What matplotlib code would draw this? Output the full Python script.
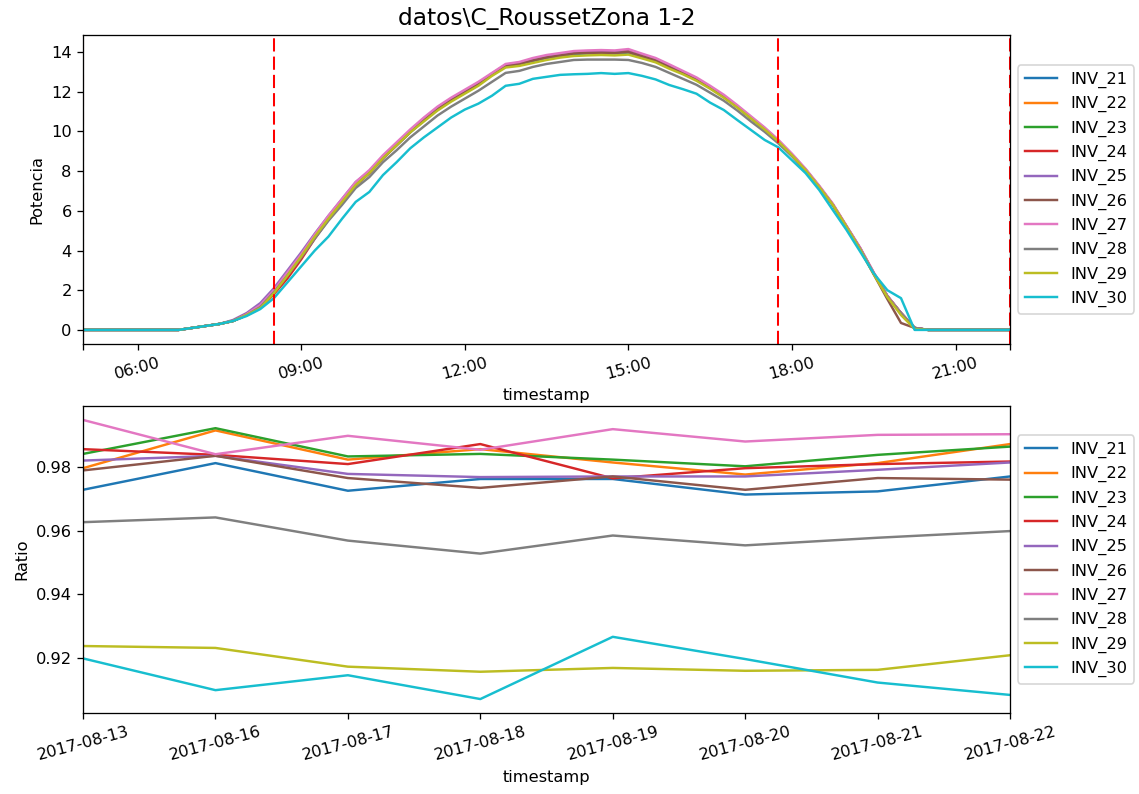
import pandas as pd
import matplotlib
matplotlib.use("Agg")
import matplotlib.pyplot as plt

# 1. datos
day = "2017-08-22"
inverters = ["INV_21", "INV_22", "INV_23", "INV_24", "INV_25",
             "INV_26", "INV_27", "INV_28", "INV_29", "INV_30"]

# muestreo de 15 min entre 06:45 y 20:30, mas los extremos del dia
hours = (["05:00"]
         + [t.strftime("%H:%M") for t in pd.date_range(day + " 06:45", day + " 20:30", freq="15min")]
         + ["22:00"])

inv_21 = [0.0, 0.0, 0.1, 0.2, 0.3, 0.45, 0.75, 1.15, 1.9, 2.8, 3.7, 4.7, 5.6, 6.45, 7.3, 7.9, 8.65, 9.3, 9.95,
          10.55, 11.1, 11.55, 11.95, 12.35, 12.85, 13.3, 13.4, 13.55, 13.7, 13.8, 13.9, 13.93, 13.93, 13.93,
          13.97, 13.77, 13.57, 13.24, 12.94, 12.6, 12.2, 11.75, 11.23, 10.67, 10.12, 9.5, 8.8, 8.05, 7.2,
          6.3, 5.2, 4.1, 2.85, 1.7, 0.85, 0.1, 0.0, 0.0]
inv_22 = [0.0, 0.0, 0.1, 0.2, 0.3, 0.45, 0.75, 1.15, 1.9, 2.8, 3.72, 4.72, 5.63, 6.5, 7.35, 7.95, 8.7, 9.35, 10.0,
          10.6, 11.15, 11.6, 12.0, 12.4, 12.9, 13.35, 13.45, 13.62, 13.76, 13.86, 13.96, 13.99, 13.99, 13.99,
          14.03, 13.82, 13.62, 13.29, 12.98, 12.64, 12.24, 11.79, 11.27, 10.7, 10.15, 9.53, 8.83, 8.08, 7.23,
          6.32, 5.22, 4.12, 2.86, 1.7, 0.85, 0.1, 0.0, 0.0]
inv_23 = [0.0, 0.0, 0.1, 0.2, 0.3, 0.45, 0.75, 1.15, 1.9, 2.8, 3.72, 4.72, 5.62, 6.48, 7.33, 7.93, 8.68, 9.33,
          9.98, 10.58, 11.13, 11.58, 11.98, 12.38, 12.88, 13.33, 13.43, 13.6, 13.75, 13.85, 13.95, 13.98,
          13.98, 13.98, 14.02, 13.8, 13.6, 13.27, 12.96, 12.62, 12.22, 11.77, 11.25, 10.69, 10.14, 9.52,
          8.82, 8.07, 7.22, 6.31, 5.21, 4.11, 2.85, 1.7, 0.85, 0.1, 0.0, 0.0]
inv_24 = [0.0, 0.0, 0.1, 0.2, 0.3, 0.45, 0.75, 1.1, 1.8, 2.6, 3.55, 4.6, 5.55, 6.45, 7.3, 7.9, 8.65, 9.3, 9.97,
          10.57, 11.12, 11.57, 11.97, 12.37, 12.87, 13.33, 13.43, 13.6, 13.75, 13.85, 13.96, 13.99, 13.99,
          13.99, 14.03, 13.82, 13.62, 13.28, 12.97, 12.63, 12.23, 11.78, 11.26, 10.69, 10.14, 9.52, 8.82,
          8.07, 7.22, 6.31, 5.21, 4.11, 2.86, 1.7, 0.85, 0.1, 0.0, 0.0]
inv_25 = [0.0, 0.0, 0.1, 0.2, 0.3, 0.5, 0.85, 1.35, 2.1, 3.0, 3.9, 4.85, 5.75, 6.6, 7.45, 8.0, 8.75, 9.4, 10.05,
          10.65, 11.2, 11.65, 12.03, 12.43, 12.92, 13.36, 13.46, 13.62, 13.76, 13.86, 13.96, 13.98, 13.98,
          13.98, 14.02, 13.8, 13.6, 13.27, 12.96, 12.62, 12.22, 11.77, 11.25, 10.69, 10.14, 9.52, 8.82,
          8.07, 7.22, 6.31, 5.21, 4.1, 2.85, 1.7, 0.8, 0.1, 0.0, 0.0]
inv_26 = [0.0, 0.0, 0.1, 0.2, 0.3, 0.45, 0.8, 1.2, 1.95, 2.85, 3.75, 4.72, 5.62, 6.48, 7.33, 7.93, 8.68, 9.33,
          9.98, 10.58, 11.13, 11.58, 11.98, 12.38, 12.88, 13.32, 13.42, 13.58, 13.73, 13.83, 13.93, 13.96,
          13.96, 13.96, 14.0, 13.79, 13.59, 13.26, 12.95, 12.61, 12.21, 11.76, 11.24, 10.68, 10.13, 9.51,
          8.81, 8.06, 7.21, 6.3, 5.2, 4.05, 2.8, 1.55, 0.35, 0.1, 0.0, 0.0]
inv_27 = [0.0, 0.0, 0.1, 0.2, 0.3, 0.45, 0.8, 1.25, 2.0, 2.9, 3.8, 4.8, 5.75, 6.6, 7.45, 8.05, 8.8, 9.45, 10.1,
          10.7, 11.25, 11.7, 12.1, 12.5, 12.95, 13.4, 13.5, 13.7, 13.85, 13.95, 14.05, 14.08, 14.1, 14.08,
          14.15, 13.92, 13.7, 13.38, 13.05, 12.72, 12.3, 11.85, 11.32, 10.76, 10.2, 9.58, 8.88, 8.12, 7.27,
          6.36, 5.25, 4.15, 2.9, 1.72, 0.86, 0.1, 0.0, 0.0]
inv_28 = [0.0, 0.0, 0.1, 0.2, 0.3, 0.45, 0.75, 1.15, 1.9, 2.75, 3.65, 4.6, 5.5, 6.3, 7.15, 7.7, 8.45, 9.05, 9.7,
          10.25, 10.8, 11.25, 11.65, 12.05, 12.5, 12.95, 13.05, 13.25, 13.4, 13.5, 13.6, 13.62, 13.62, 13.62,
          13.6, 13.45, 13.25, 12.95, 12.65, 12.35, 11.95, 11.55, 11.05, 10.5, 9.98, 9.4, 8.75, 8.02, 7.18,
          6.28, 5.18, 4.08, 2.84, 1.68, 0.84, 0.1, 0.0, 0.0]
inv_29 = [0.0, 0.0, 0.1, 0.2, 0.3, 0.45, 0.75, 1.1, 1.85, 2.75, 3.7, 4.7, 5.6, 6.45, 7.3, 7.9, 8.65, 9.3, 9.95,
          10.5, 11.05, 11.5, 11.9, 12.3, 12.8, 13.22, 13.3, 13.45, 13.6, 13.72, 13.8, 13.83, 13.85, 13.83,
          13.87, 13.68, 13.48, 13.16, 12.88, 12.55, 12.15, 11.7, 11.2, 10.65, 10.1, 9.5, 8.8, 8.05, 7.2, 6.3,
          5.2, 4.05, 2.8, 1.65, 0.75, 0.05, 0.0, 0.0]
inv_30 = [0.0, 0.0, 0.1, 0.2, 0.3, 0.45, 0.7, 1.05, 1.6, 2.4, 3.2, 4.0, 4.7, 5.6, 6.45, 6.95, 7.8, 8.45, 9.15,
          9.7, 10.2, 10.7, 11.1, 11.4, 11.8, 12.3, 12.4, 12.65, 12.75, 12.85, 12.88, 12.9, 12.94, 12.9, 12.94,
          12.8, 12.62, 12.34, 12.13, 11.9, 11.45, 11.08, 10.57, 10.07, 9.57, 9.2, 8.55, 7.9, 7.05, 6.04, 5.04,
          3.95, 2.85, 2.0, 1.6, 0.0, 0.0, 0.0]

# amanecer / atardecer y limites del dia
day_marks = ["05:00", "08:30", "17:45", "22:00"]
hour_ticks = ["05:00", "06:00", "09:00", "12:00", "15:00", "18:00", "21:00", "22:00"]

# ratio diario
ratio_dates = ["2017-08-13", "2017-08-16", "2017-08-17", "2017-08-18",
               "2017-08-19", "2017-08-20", "2017-08-21", "2017-08-22"]
ratio_21 = [0.9729, 0.9813, 0.9726, 0.9763, 0.9763, 0.9714, 0.9724, 0.9771]
ratio_22 = [0.9797, 0.9916, 0.9824, 0.9857, 0.9815, 0.9777, 0.9813, 0.9873]
ratio_23 = [0.9842, 0.9923, 0.9834, 0.9842, 0.9824, 0.9803, 0.9839, 0.9865]
ratio_24 = [0.9857, 0.9839, 0.9810, 0.9873, 0.9765, 0.9797, 0.9810, 0.9818]
ratio_25 = [0.9821, 0.9836, 0.9779, 0.9769, 0.9771, 0.9771, 0.9792, 0.9815]
ratio_26 = [0.9790, 0.9836, 0.9766, 0.9735, 0.9771, 0.9729, 0.9766, 0.9761]
ratio_27 = [0.9949, 0.9841, 0.9899, 0.9855, 0.9920, 0.9881, 0.9902, 0.9904]
ratio_28 = [0.9627, 0.9642, 0.9569, 0.9528, 0.9585, 0.9554, 0.9578, 0.9599]
ratio_29 = [0.9237, 0.9231, 0.9172, 0.9156, 0.9168, 0.9159, 0.9162, 0.9208]
ratio_30 = [0.9198, 0.9098, 0.9145, 0.9070, 0.9266, 0.9196, 0.9122, 0.9083]


def main() -> None:
    power = [inv_21, inv_22, inv_23, inv_24, inv_25, inv_26, inv_27, inv_28, inv_29, inv_30]
    ratios = [ratio_21, ratio_22, ratio_23, ratio_24, ratio_25, ratio_26, ratio_27, ratio_28, ratio_29, ratio_30]

    t = pd.to_datetime([day + " " + h for h in hours])
    marks = pd.to_datetime([day + " " + h for h in day_marks])
    ticks = pd.to_datetime([day + " " + h for h in hour_ticks])

    dpi = 117
    fig = plt.figure(figsize=(1139 / dpi, 794 / dpi), dpi=dpi)
    ax1 = fig.add_axes([0.0729, 0.5668, 0.8139, 0.3891])
    ax2 = fig.add_axes([0.0729, 0.1020, 0.8139, 0.3867])

    # 2. potencia a lo largo del dia
    for name, vals in zip(inverters, power):
        ax1.plot(t, vals, label=name)
    for m in marks:
        ax1.axvline(m, color="red", linestyle="--", linewidth=1.25, dashes=(6.5, 2.5))
    ax1.set_xlim(marks[0], marks[-1])
    ax1.set_xticks(ticks)
    ax1.set_xticklabels([""] + hour_ticks[1:-1] + [""], rotation=15)
    ax1.set_yticks(range(0, 15, 2))
    ax1.set_title("datos\\C_RoussetZona 1-2", fontsize="x-large")
    ax1.set_xlabel("timestamp")
    ax1.set_ylabel("Potencia")
    ax1.legend(loc="center left", bbox_to_anchor=(1, 0.5))

    # 3. ratio por dia
    x = list(range(len(ratio_dates)))
    for name, vals in zip(inverters, ratios):
        ax2.plot(x, vals, label=name)
    ax2.set_xlim(x[0], x[-1])
    ax2.set_xticks(x)
    ax2.set_xticklabels(ratio_dates, rotation=15)
    ax2.set_xlabel("timestamp")
    ax2.set_ylabel("Ratio")
    ax2.legend(loc="center left", bbox_to_anchor=(1, 0.5))

    fig.savefig("out.png", dpi=dpi)


if __name__ == "__main__":
    main()
